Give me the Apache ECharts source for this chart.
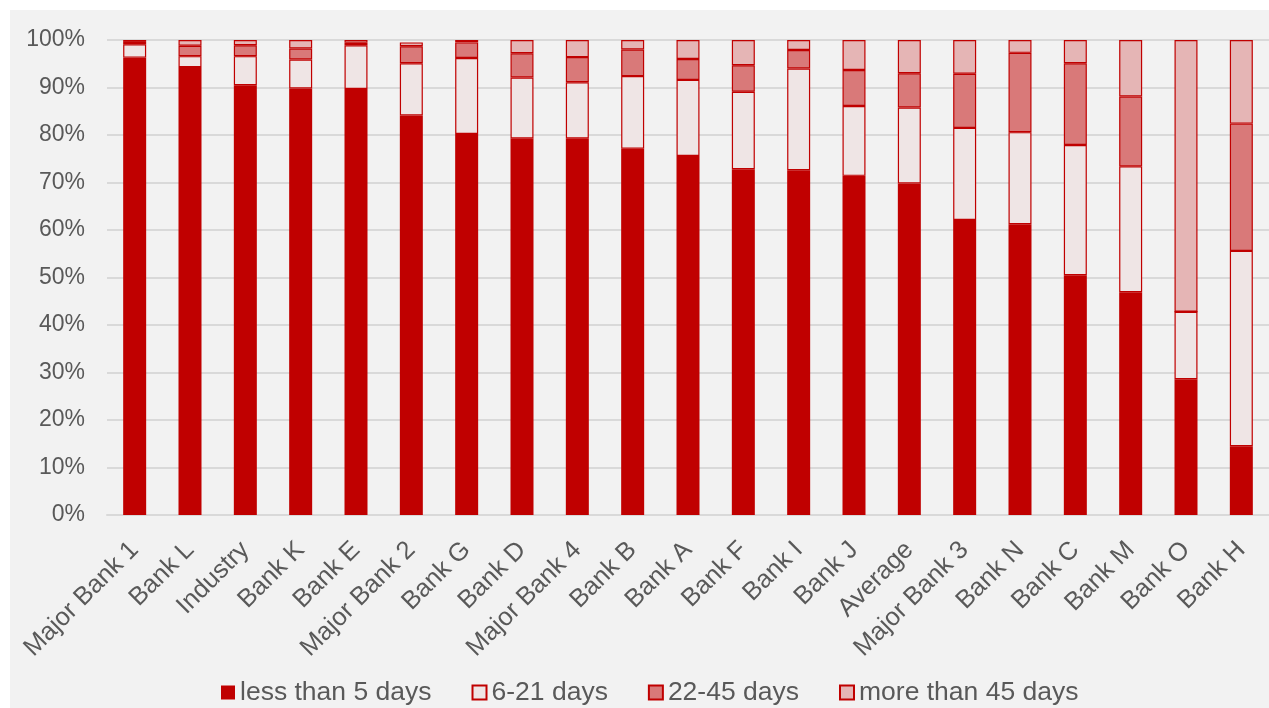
<!DOCTYPE html>
<html>
<head>
<meta charset="utf-8">
<script src="https://cdn.jsdelivr.net/npm/echarts@6/dist/echarts.min.js"></script>
<style>
html,body{margin:0;padding:0;background:#ffffff;width:1269px;height:708px;overflow:hidden;}
#chart{position:absolute;left:10px;top:10px;width:1259px;height:698px;background:#F2F2F2;}
</style>
</head>
<body>
<div id="chart"></div>
<script>
const categories = ['Major Bank 1','Bank L','Industry','Bank K','Bank E','Major Bank 2','Bank G','Bank D','Major Bank 4','Bank B','Bank A','Bank F','Bank I','Bank J','Average','Major Bank 3','Bank N','Bank C','Bank M','Bank O','Bank H'];
const seriesNames = ['less than 5 days','6-21 days','22-45 days','more than 45 days'];
const less5  = [96.3, 94.3, 90.5, 89.8, 89.7, 84.1, 80.2, 79.3, 79.3, 77.1, 75.6, 72.8, 72.6, 71.4, 69.8, 62.1, 61.2, 50.5, 46.9, 28.6, 14.5];
const d6_21  = [2.8, 2.3, 6.1, 6.1, 9.2, 11.0, 16.0, 12.8, 11.8, 15.3, 16.0, 16.3, 21.4, 14.7, 16.0, 19.4, 19.4, 27.4, 26.5, 14.2, 41.1];
const d22_45 = [0.5, 2.2, 2.3, 2.3, 0.5, 3.6, 3.3, 5.1, 5.3, 5.6, 4.4, 5.6, 3.9, 7.6, 7.2, 11.4, 16.7, 17.2, 14.7, 0, 26.8];
const more45 = [0.4, 1.2, 1.1, 1.8, 0.6, 0.8, 0.5, 2.8, 3.6, 2.0, 4.0, 5.3, 2.1, 6.3, 7.0, 7.1, 2.7, 4.9, 11.9, 57.2, 17.6];
const yTicks = [0,10,20,30,40,50,60,70,80,90,100];

const fills = ['#C00000','#EFE5E5','#D97979','#E5B5B5'];
const dataSets = [less5, d6_21, d22_45, more45];
const font = '"Liberation Sans", Arial, sans-serif';

const chart = echarts.init(document.getElementById('chart'), null, {renderer:'canvas'});
chart.setOption({
  animation:false,
  backgroundColor:'transparent',
  textStyle:{fontFamily:font},
  grid:{left:97, top:30, width:1168, height:475, containLabel:false},
  legend:{
    left:211, top:669, padding:[0,0,0,0],
    itemWidth:14, itemHeight:14, itemGap:40,
    icon:'rect',
    textStyle:{fontSize:26.5, color:'#595959', fontFamily:font},
    data:seriesNames
  },
  xAxis:{
    type:'category', data:categories,
    axisLine:{show:true, lineStyle:{color:'#D9D9D9', width:2}},
    axisTick:{show:false},
    axisLabel:{rotate:45, fontSize:25.5, color:'#595959', margin:31, interval:0, fontFamily:font}
  },
  yAxis:{
    type:'value', min:yTicks[0], max:yTicks[yTicks.length-1], interval:10,
    axisLine:{show:false}, axisTick:{show:false},
    splitLine:{lineStyle:{color:'#D9D9D9', width:2}},
    axisLabel:{formatter:'{value}%', fontSize:23, color:'#595959', margin:22, fontFamily:font}
  },
  series: seriesNames.map((n,i)=>({
    name:n, type:'bar', stack:'total', barWidth:23,
    data:dataSets[i],
    itemStyle:{color:fills[i], borderColor:'#C00000', borderWidth:i===0?0:1.2}
  }))
});
</script>
</body>
</html>
